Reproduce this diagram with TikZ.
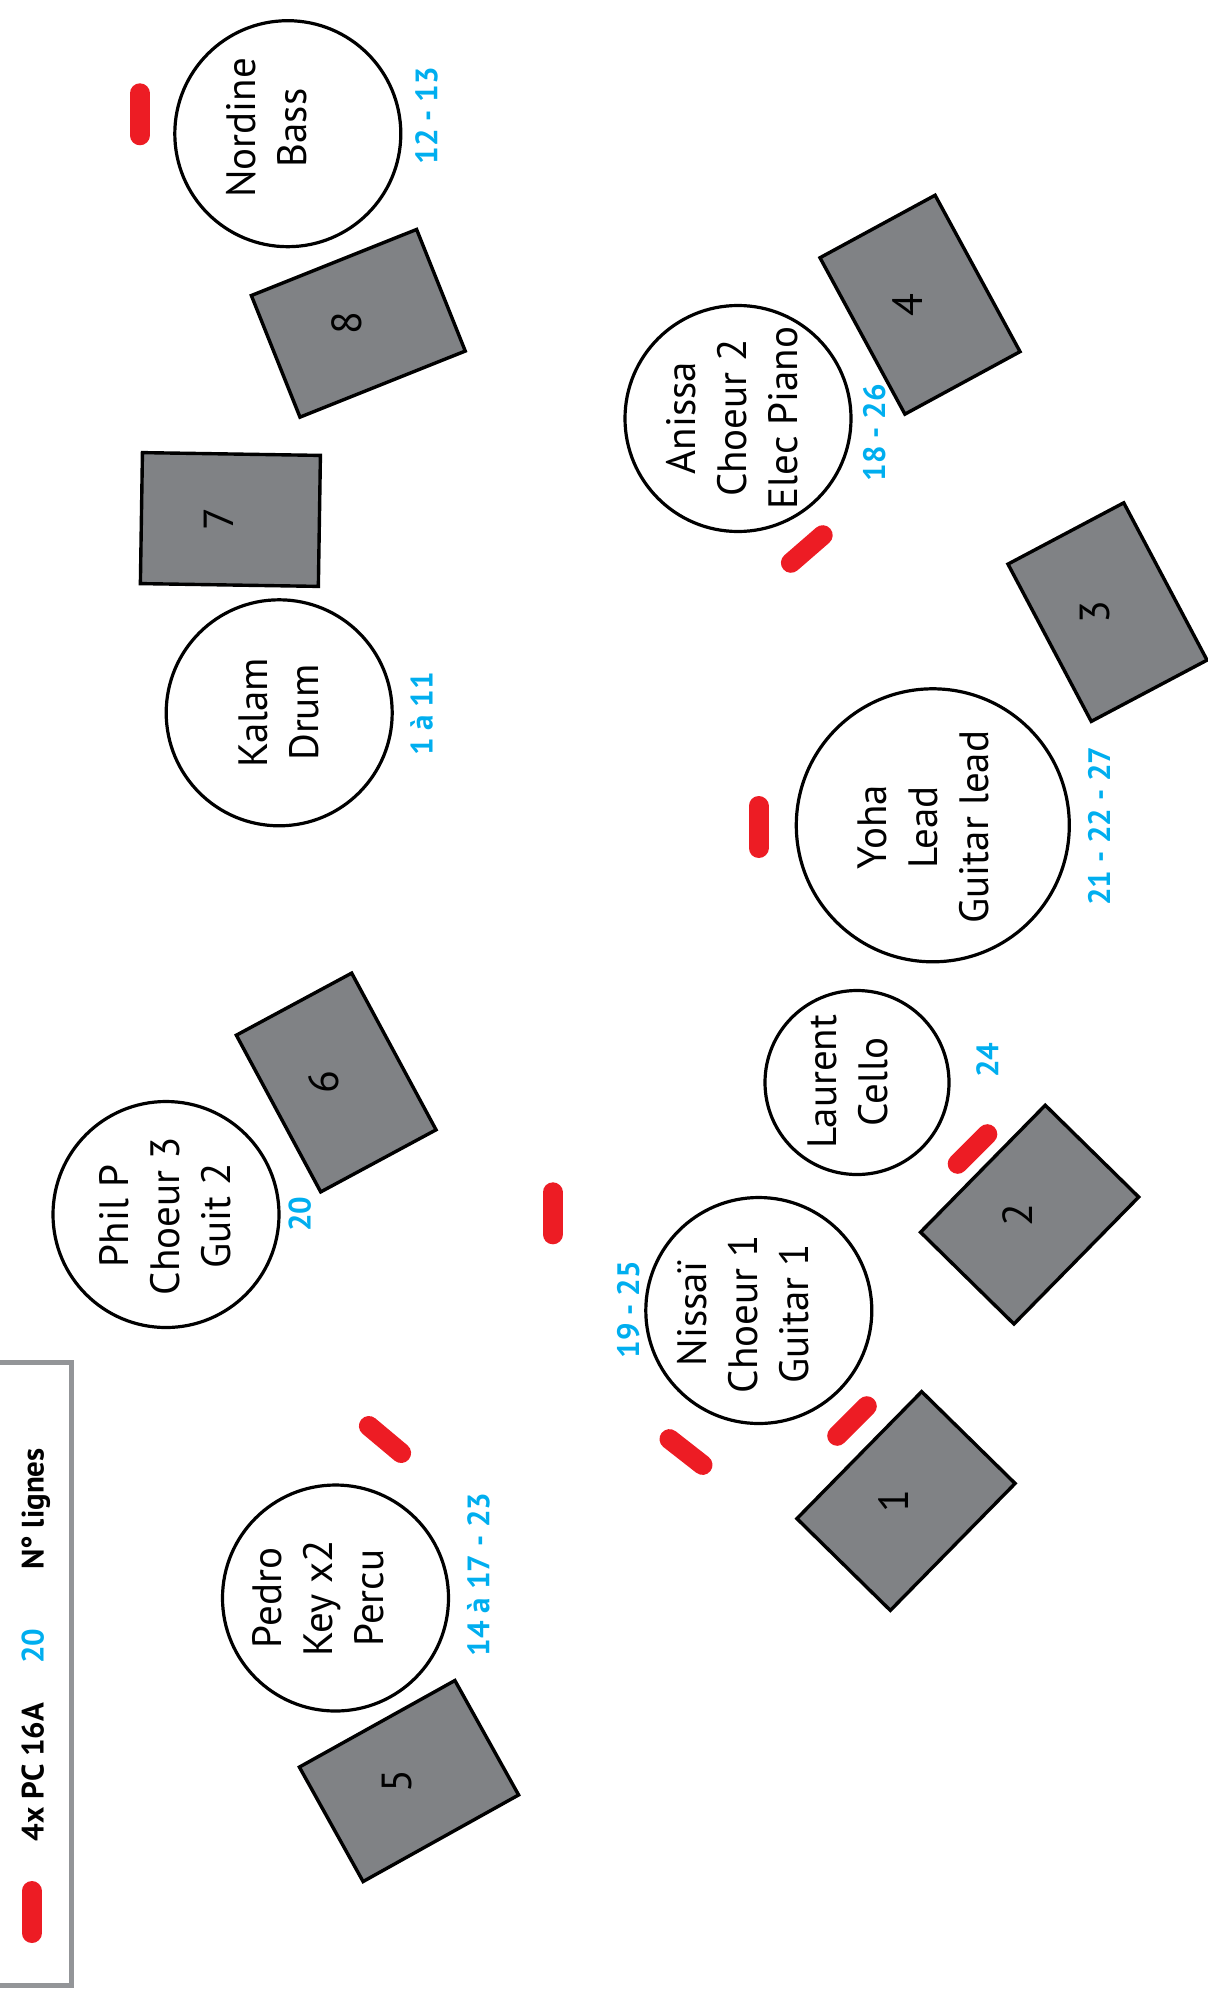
\documentclass[tikz,border=0pt]{standalone}
\usepackage{fontspec}
\setmainfont{PT Sans}
\definecolor{wedgegray}{HTML}{808285}
\definecolor{micred}{HTML}{ED1C24}
\definecolor{lineblue}{HTML}{00AEEF}
\definecolor{framegray}{HTML}{939598}
\begin{document}
\begin{tikzpicture}[x=1pt, y=-1pt,
  player/.style={circle, draw, line width=3.2pt, minimum size=226pt, inner sep=0pt},
  who/.style={rotate=90, align=center, inner sep=0pt, font=\fontsize{41}{51}\selectfont},
  lines/.style={rotate=90, anchor=base, inner sep=0pt, text=lineblue, font=\fontsize{31}{36}\selectfont\bfseries},
  wedge/.style={draw, fill=wedgegray, line width=3.4pt, minimum width=178pt, minimum height=131pt, inner sep=0pt},
  wnum/.style={rotate=90, inner sep=0pt, font=\fontsize{42}{51}\selectfont},
  mic/.style={micred, line width=20pt, line cap=round}]
\useasboundingbox (0,0) rectangle (1207,1993);

% Wedges
\node[wedge, rotate=21.8] (w8) at (358.3,323.3) {};
\node[wedge, rotate=-0.9] (w7) at (230.4,519.5) {};
\node[wedge, rotate=-61.5] (w4) at (920,304.7) {};
\node[wedge, rotate=-62.1] (w3) at (1107.5,612.1) {};
\node[wedge, rotate=-61.7] (w6) at (336.2,1082.5) {};
\node[wedge, rotate=45.5] (w2) at (1029.6,1214.6) {};
\node[wedge, rotate=45.5] (w1) at (906,1501) {};
\node[wedge, rotate=29.1] (w5) at (409,1781) {};

\node[wnum] (n8) at ([xshift=-12pt]w8.center) {8};
\node[wnum] (n7) at ([xshift=-12pt]w7.center) {7};
\node[wnum] (n4) at ([xshift=-12pt]w4.center) {4};
\node[wnum] (n3) at ([xshift=-12pt]w3.center) {3};
\node[wnum] (n6) at ([xshift=-12pt]w6.center) {6};
\node[wnum] (n2) at ([xshift=-12pt]w2.center) {2};
\node[wnum] (n1) at ([xshift=-12pt]w1.center) {1};
\node[wnum] (n5) at ([xshift=-12pt]w5.center) {5};

% Musicians
\node[player] (cNordine) at (287.8,133.7) {};
\node[who] (tNordine) at (266.8,128) {Nordine\\Bass};
\node[player] (cKalam) at (279.2,712.8) {};
\node[who] (tKalam) at (278.8,712.7) {Kalam\\Drum};
\node[player] (cAnissa) at (738,418.5) {};
\node[who] (tAnissa) at (732,418) {Anissa\\Choeur 2\\Elec Piano};
\node[player, minimum size=273pt] (cYoha) at (932.8,825.3) {};
\node[who] (tYoha) at (923,827) {Yoha\\Lead\\Guitar lead};
\node[player, minimum size=184pt] (cLaurent) at (857,1082.5) {};
\node[who] (tLaurent) at (848.3,1081.7) {Laurent\\Cello};
\node[player] (cNissai) at (758.8,1310.5) {};
\node[who] (tNissai) at (742.8,1314) {Nissaï\\Choeur 1\\Guitar 1};
\node[player] (cPhil) at (166,1214.5) {};
\node[who] (tPhil) at (165,1216) {Phil P\\Choeur 3\\Guit 2};
\node[player] (cPedro) at (335.5,1598) {};
\node[who] (tPedro) at (318,1598) {Pedro\\Key x2\\Percu};

% line numbers
\node[lines] (lNordine) at (437.3,115.8) {12 - 13};
\node[lines] (lKalam) at (432.7,714) {1 à 11};
\node[lines] (lAnissa) at (885,432.5) {18 - 26};
\node[lines] (lYoha) at (1110,826) {21 - 22 - 27};
\node[lines] (lLaurent) at (998.3,1060) {24};
\node[lines] (lNissai) at (639,1309.5) {19 - 25};
\node[lines] (lPhil) at (310.7,1214) {20};
\node[lines] (lPedro) at (489.3,1574.5) {14 à 17 - 23};

% power
\draw[mic] (139.8,93.3) -- (139.8,135.3);
\draw[mic] (368.9,1426) -- (401.1,1453);
\draw[mic] (552.7,1192.3) -- (552.7,1234.3);
\draw[mic] (669.5,1439.1) -- (702.5,1464.9);
\draw[mic] (837.2,1435.8) -- (866.8,1406.2);
\draw[mic] (957.7,1163.8) -- (987.3,1134.2);
\draw[mic] (758.5,806) -- (758.5,848);
\draw[mic] (790.9,562.8) -- (822.7,535.2);

% Legend
\draw[framegray, line width=5pt] (-10,1362) rectangle (71,1985);
\draw[mic] (31.8,1891) -- (31.8,1933);
\node[lines, text=black] (kPower) at (43.5,1772) {4x PC 16A};
\node[lines] (kNum) at (43.5,1646) {20};
\node[lines, text=black] (kLines) at (43.5,1509) {N° lignes};

\end{tikzpicture}
\end{document}
